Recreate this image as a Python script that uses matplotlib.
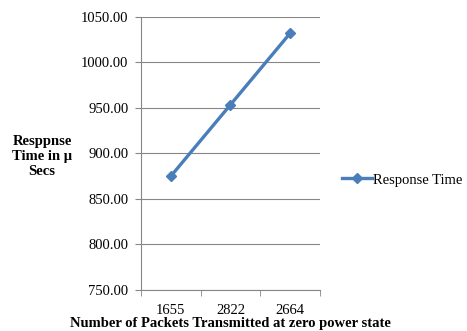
import numpy as np
import matplotlib.pyplot as plt

# packets transmitted at zero power state vs response time
packets = ["1655", "2822", "2664"]
response_time = [875.0, 953.5, 1032.0]

plt.rcParams['font.family'] = ['Liberation Serif', 'DejaVu Serif']
fs = 10.5

fig = plt.figure(figsize=(4.67, 3.31), dpi=100)
ax = fig.add_axes([0.302, 0.124, 0.383, 0.825])

x = np.arange(len(packets))
ax.plot(x, response_time, color="#4a7ebb", linewidth=2.4, marker="D",
        markersize=5, label="Response Time")

ax.set_xlim(-0.5, len(packets) - 0.5)
ax.set_ylim(750, 1050)
ax.set_yticks(np.arange(750, 1051, 50))
ax.set_yticklabels([f"{v:.2f}" for v in np.arange(750, 1051, 50)], fontsize=fs)

# category labels centred, ticks on boundaries
ax.set_xticks(x)
ax.set_xticklabels(packets, fontsize=fs)
ax.set_xticks(np.arange(-0.5, len(packets)), minor=True)
ax.tick_params(axis="x", which="major", length=0, pad=10)
ax.tick_params(axis="x", which="minor", length=4, color="#868686")
ax.tick_params(axis="y", length=4, color="#868686", pad=5)

ax.grid(axis="y", color="#868686", linewidth=0.8)
ax.set_axisbelow(True)
for s in ["top", "right"]:
    ax.spines[s].set_visible(False)
for s in ["left", "bottom"]:
    ax.spines[s].set_color("#868686")

ax.set_xlabel("Number of Packets Transmitted at zero power state",
              fontsize=fs, fontweight="bold", labelpad=0)
fig.text(0.09, 0.527, "Resppnse\nTime in \u00b5\nSecs", ha="center", va="center",
         fontsize=fs, fontweight="bold", linespacing=1.2)

ax.legend(loc="center left", bbox_to_anchor=(1.123, 0.403), frameon=False,
          fontsize=fs, handlelength=2.05, handletextpad=0.1, borderaxespad=0,
          borderpad=0)

fig.savefig("out.png", dpi=100)
